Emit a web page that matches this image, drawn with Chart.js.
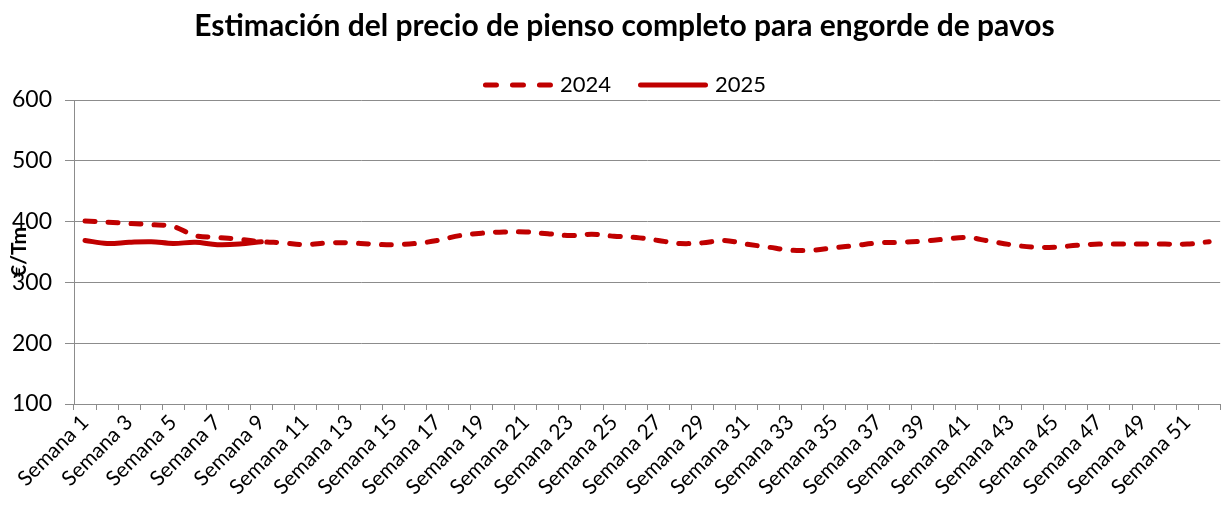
<!DOCTYPE html>
<html>
<head>
<meta charset="utf-8">
<script src="https://cdn.jsdelivr.net/npm/chart.js@4"></script>
<style>
  body { margin: 0; background: #fff; }
  #wrap { width: 1227px; height: 509px; }
</style>
</head>
<body>
<div id="wrap"><canvas id="feedChart" width="1227" height="509"></canvas></div>
<script>
// Weekly categories
const weeks = [
  "Semana 1", "Semana 2", "Semana 3", "Semana 4", "Semana 5", "Semana 6", "Semana 7",
  "Semana 8", "Semana 9", "Semana 10", "Semana 11", "Semana 12", "Semana 13", "Semana 14",
  "Semana 15", "Semana 16", "Semana 17", "Semana 18", "Semana 19", "Semana 20", "Semana 21",
  "Semana 22", "Semana 23", "Semana 24", "Semana 25", "Semana 26", "Semana 27", "Semana 28",
  "Semana 29", "Semana 30", "Semana 31", "Semana 32", "Semana 33", "Semana 34", "Semana 35",
  "Semana 36", "Semana 37", "Semana 38", "Semana 39", "Semana 40", "Semana 41", "Semana 42",
  "Semana 43", "Semana 44", "Semana 45", "Semana 46", "Semana 47", "Semana 48", "Semana 49",
  "Semana 50", "Semana 51", "Semana 52"
];

// Price estimates (€/Tm)
const price2024 = [
  401, 399, 397, 395, 392, 377, 374, 371, 367, 365,
  362, 365, 365, 363, 362, 364, 369, 377, 381, 383,
  383, 380, 377, 379, 376, 374, 369, 364, 365, 369,
  363, 358, 353, 353, 357, 361, 365, 366, 368, 371,
  374, 368, 362, 358, 358, 361, 363, 363, 363, 363,
  363, 367
];
const price2025 = [369, 364, 366, 367, 364, 366, 362, 363, 367];

// Y axis ticks
const yTicks = [100, 200, 300, 400, 500, 600];

const RED = "#C00000";
const GRID = "#8c8c8c";
const FONT = "Lato, 'Open Sans', sans-serif";
const DASH = [10, 13];
const LEGEND_DASH = [11, 16];

// Legend samples are drawn by hand so the 2024 one keeps its dashes
const legendLines = {
  id: "legendLines",
  afterDraw(chart) {
    const legend = chart.legend;
    if (!legend || !legend.legendHitBoxes) return;
    const c = chart.ctx;
    chart.data.datasets.forEach((ds, i) => {
      const hb = legend.legendHitBoxes[i];
      if (!hb) return;
      const y = hb.top + hb.height / 2;
      c.save();
      c.strokeStyle = ds.borderColor;
      c.lineWidth = ds.borderWidth;
      c.lineCap = "round";
      c.setLineDash(ds.borderDash ? LEGEND_DASH : []);
      c.beginPath();
      c.moveTo(hb.left + 2.5, y);
      c.lineTo(hb.left + 67.5, y);
      c.stroke();
      c.restore();
    });
  }
};

const ctx = document.getElementById("feedChart").getContext("2d");
new Chart(ctx, {
  type: "line",
  data: {
    labels: weeks,
    datasets: [
      {
        label: "2024",
        data: price2024,
        borderColor: RED,
        backgroundColor: RED,
        borderWidth: 5,
        borderDash: DASH,
        borderCapStyle: "round",
        pointRadius: 0,
        tension: 0.35,
        fill: false
      },
      {
        label: "2025",
        data: price2025,
        borderColor: RED,
        backgroundColor: RED,
        borderWidth: 5,
        borderCapStyle: "round",
        pointRadius: 0,
        tension: 0.35,
        fill: false
      }
    ]
  },
  options: {
    responsive: false,
    animation: false,
    layout: { padding: { left: 24, right: 2, top: 0, bottom: 0 } },
    plugins: {
      title: {
        display: true,
        text: "Estimación del precio de pienso completo para engorde de pavos",
        color: "#000",
        font: { family: FONT, size: 30, weight: "bold" },
        padding: { top: 8, bottom: 3 }
      },
      legend: {
        position: "top",
        maxHeight: 53,
        labels: {
          color: "#000",
          font: { family: FONT, size: 22 },
          usePointStyle: true,
          pointStyle: "line",
          pointStyleWidth: 66,
          boxHeight: 5,
          padding: 27,
          generateLabels(chart) {
            const items = Chart.defaults.plugins.legend.labels.generateLabels(chart);
            items.forEach(it => { it.strokeStyle = "rgba(0,0,0,0)"; });
            return items;
          }
        }
      },
      tooltip: { enabled: false }
    },
    scales: {
      x: {
        offset: true,
        afterFit(scale) { scale.height = 105; },
        border: { color: GRID, width: 1 },
        grid: {
          offset: true,
          drawOnChartArea: false,
          drawTicks: true,
          tickLength: 6,
          color: GRID
        },
        ticks: {
          autoSkip: false,
          maxRotation: 45,
          minRotation: 45,
          color: "#000",
          font: { family: FONT, size: 21 },
          padding: 0,
          callback(value, index) {
            return index % 2 === 0 ? weeks[index] : "";
          }
        }
      },
      y: {
        min: yTicks[0],
        max: yTicks[yTicks.length - 1],
        afterFit(scale) {
          scale.width = 50;
          // tick labels reach into the left padding, so don't clip them
          scale._computeLabelArea = () => undefined;
        },
        afterBuildTicks(scale) {
          scale.ticks = yTicks.map(v => ({ value: v }));
        },
        border: { color: GRID, width: 1 },
        grid: { color: GRID, lineWidth: 1, tickLength: 9 },
        ticks: {
          color: "#000",
          font: { family: FONT, size: 23 },
          padding: 13
        },
        title: {
          display: true,
          text: "€/Tm",
          color: "#000",
          font: { family: FONT, size: 21, weight: "bold" },
          padding: { top: -17, bottom: 0 }
        }
      }
    }
  },
  plugins: [legendLines]
});
</script>
</body>
</html>
